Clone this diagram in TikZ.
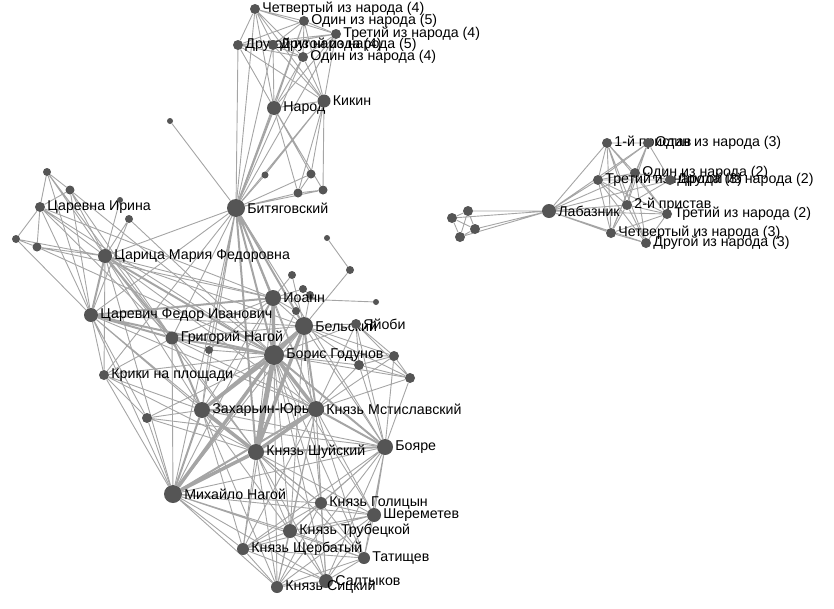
\documentclass[tikz,border=0pt]{standalone}
\usepackage{fontspec}
\setmainfont{Liberation Sans}
\usetikzlibrary{backgrounds}

\definecolor{dotgray}{RGB}{85,85,85}
\definecolor{edgegray}{RGB}{165,165,165}

\tikzset{
  dot/.style={circle, fill=dotgray, inner sep=0pt, minimum size=#1},
  edge/.style={draw=edgegray, line width=0.9pt},
  edgemid/.style={edge, line width=2pt},
  edgethick/.style={edge, line width=3.5pt},
  edgeheavy/.style={edge, line width=5pt},
  every label/.style={font=\fontsize{14.2}{16}\selectfont, inner sep=1pt, text=black},
  label distance=1pt
}

\begin{document}
\begin{tikzpicture}[x=1pt, y=-1pt]
    \useasboundingbox (0,0) rectangle (834,608);

    % top group
    \node[dot=10pt, label=right:{Четвертый из народа (4)}] (ch4) at (255,9) {};
    \node[dot=10pt, label=right:{Один из народа (5)}] (od5) at (304,21) {};
    \node[dot=10pt, label=right:{Третий из народа (4)}] (tr4) at (336,34) {};
    \node[dot=10pt, label=right:{Другой из народа (4)}] (dr4) at (238,45) {};
    \node[dot=10pt, label=right:{Другой из народа (5)}] (dr5) at (273,45) {};
    \node[dot=10pt, label=right:{Один из народа (4)}] (od4) at (303,57) {};
    \node[dot=14pt, label=right:{Народ}] (narod) at (274,108) {};
    \node[dot=13pt, label=right:{Кикин}] (kikin) at (324,101) {};
    \node[dot=6pt] (s1) at (170,121) {};
    \node[dot=7pt] (s2) at (265,175) {};
    \node[dot=9pt] (s3) at (311,174) {};
    \node[dot=9pt] (s4) at (323,190) {};
    \node[dot=9pt] (s5) at (298,193) {};
    \node[dot=18pt, label=right:{Битяговский}] (bit) at (236,208) {};

    % left group
    \node[dot=8pt] (l1) at (47,172) {};
    \node[dot=9pt] (l2) at (70,190) {};
    \node[dot=10pt, label=right:{Царевна Ирина}] (irina) at (40,207) {};
    \node[dot=6pt] (l3) at (120,200) {};
    \node[dot=8pt] (l4) at (129,219) {};
    \node[dot=8pt] (l5) at (16,239) {};
    \node[dot=9pt] (l6) at (37,247) {};
    \node[dot=14pt, label=right:{Царица Мария Федоровна}] (carica) at (105,256) {};
    \node[dot=14pt, label=right:{Царевич Федор Иванович}] (carevich) at (91,315) {};
    \node[dot=13pt, label=right:{Григорий Нагой}] (grig) at (172,338) {};
    \node[dot=8pt] (m1) at (209,350) {};
    \node[dot=10pt, label=right:{Крики на площади}] (kriki) at (104,375) {};
    \node[dot=10pt] (m2) at (147,418) {};

    % middle
    \node[dot=6pt] (c1) at (327,238) {};
    \node[dot=8pt] (c2) at (350,270) {};
    \node[dot=8pt] (c3) at (292,275) {};
    \node[dot=8pt] (c4) at (303,289) {};
    \node[dot=8pt] (c5) at (310,295) {};
    \node[dot=6pt] (c6) at (376,302) {};
    \node[dot=8pt] (c7) at (296,311) {};
    \node[dot=16pt, label=right:{Иоанн}] (ioann) at (273,298) {};
    \node[dot=18pt, label=right:{Бельский}] (bel) at (304,326) {};
    \node[dot=10pt, label=right:{Яйоби}] (yayobi) at (356,324) {};
    \node[dot=20pt, label=right:{Борис Годунов}] (bg) at (274,355) {};
    \node[dot=10pt] (r1) at (394,356) {};
    \node[dot=10pt] (r2) at (359,365) {};
    \node[dot=10pt] (r3) at (410,378) {};
    \node[dot=16pt, label=right:{Захарьин-Юрьев}] (zah) at (202,410) {};
    \node[dot=16pt, label=right:{Князь Мстиславский}] (mstis) at (316,409) {};
    \node[dot=16pt, label=right:{Князь Шуйский}] (shuy) at (256,452) {};
    \node[dot=16pt, label=right:{Бояре}] (boyare) at (385,447) {};
    \node[dot=18pt, label=right:{Михайло Нагой}] (mihaylo) at (173,494) {};
    \node[dot=12pt, label=right:{Князь Голицын}] (golic) at (321,503) {};
    \node[dot=14pt, label=right:{Шереметев}] (sherem) at (374,515) {};
    \node[dot=14pt, label=right:{Князь Трубецкой}] (trub) at (290,531) {};
    \node[dot=12pt, label=right:{Князь Щербатый}] (scherb) at (243,549) {};
    \node[dot=12pt, label=right:{Татищев}] (tatish) at (364,558) {};
    \node[dot=14pt, label=right:{Салтыков}] (salt) at (326,581) {};
    \node[dot=12pt, label=right:{Князь Сицкий}] (sick) at (277,587) {};

    % right group
    \node[dot=14pt, label=right:{Лабазник}] (lab) at (549,211) {};
    \node[dot=10pt] (q1) at (468,211) {};
    \node[dot=10pt] (q2) at (452,218) {};
    \node[dot=10pt] (q3) at (475,229) {};
    \node[dot=10pt] (q4) at (460,237) {};
    \node[dot=10pt, label=right:{1-й пристав}] (p1) at (607,143) {};
    \node[dot=10pt, label=right:{Один из народа (3)}] (o3) at (648,143) {};
    \node[dot=10pt, label=right:{Один из народа (2)}] (o2) at (635,173) {};
    \node[dot=10pt, label=right:{Третий из народа (3)}] (t3) at (598,180) {};
    \node[dot=10pt, label=right:{Другой из народа (2)}] (d2) at (670,180) {};
    \node[dot=10pt, label=right:{2-й пристав}] (p2) at (627,205) {};
    \node[dot=10pt, label=right:{Третий из народа (2)}] (t2) at (667,214) {};
    \node[dot=10pt, label=right:{Четвертый из народа (3)}] (ch3) at (611,233) {};
    \node[dot=10pt, label=right:{Другой из народа (3)}] (d3) at (646,243) {};

    \begin{pgfonlayer}{background}
    % top group links
    \draw[edge] (ch4) -- (od5) (ch4) -- (tr4) (ch4) -- (dr4) (ch4) -- (dr5) (ch4) -- (od4) (ch4) -- (narod) (ch4) -- (kikin) (ch4) -- (bit);
    \draw[edge] (od5) -- (tr4) (od5) -- (dr4) (od5) -- (dr5) (od5) -- (od4) (od5) -- (narod) (od5) -- (kikin) (od5) -- (bit);
    \draw[edge] (tr4) -- (dr4) (tr4) -- (dr5) (tr4) -- (od4) (tr4) -- (narod) (tr4) -- (kikin) (tr4) -- (bit);
    \draw[edge] (dr4) -- (dr5) (dr4) -- (od4) (dr4) -- (narod) (dr4) -- (kikin) (dr4) -- (bit);
    \draw[edge] (dr5) -- (od4) (dr5) -- (narod) (dr5) -- (kikin) (dr5) -- (bit);
    \draw[edge] (od4) -- (narod) (od4) -- (kikin) (od4) -- (bit);
    \draw[edgemid] (narod) -- (bit);
    \draw[edge] (narod) -- (kikin) (narod) -- (s3) (narod) -- (s4) (narod) -- (s5) (kikin) -- (bit) (kikin) -- (s2) (kikin) -- (s3) (kikin) -- (s4) (kikin) -- (s5);
    \draw[edge] (bit) -- (s1) (bit) -- (s2) (bit) -- (s3) (bit) -- (s4) (bit) -- (s5) (s3) -- (s5) (s4) -- (s5);

    % Bityagovsky down
    \draw[edge] (bit) -- (carica) (bit) -- (carevich) (bit) -- (grig) (bit) -- (zah) (bit) -- (mihaylo) (bit) -- (mstis) (bit) -- (kriki) (bit) -- (m1) (bit) -- (boyare);
    \draw[edgemid] (bit) -- (ioann) (bit) -- (bg) (bit) -- (bel) (bit) -- (shuy);

    % left group links
    \draw[edge] (l1) -- (l2) (l1) -- (irina) (l1) -- (carica) (l1) -- (carevich) (l1) -- (grig);
    \draw[edge] (l2) -- (irina) (l2) -- (carica) (l2) -- (carevich) (l2) -- (grig) (l2) -- (bg);
    \draw[edge] (irina) -- (l5) (irina) -- (l6) (irina) -- (carica) (irina) -- (carevich) (irina) -- (bg) (irina) -- (grig) (irina) -- (ioann);
    \draw[edge] (l3) -- (carica) (l4) -- (carica) (l4) -- (carevich) (l4) -- (bg);
    \draw[edge] (l5) -- (l6) (l5) -- (carica) (l5) -- (carevich) (l6) -- (carica) (l6) -- (bg) (l6) -- (ioann);
    \draw[edgemid] (carica) -- (carevich) (carica) -- (bg) (carica) -- (grig);
    \draw[edge] (carica) -- (ioann) (carica) -- (zah) (carica) -- (mihaylo) (carica) -- (shuy) (carica) -- (bel) (carica) -- (kriki) (carica) -- (mstis);
    \draw[edgemid] (carevich) -- (bg) (carevich) -- (grig) (carevich) -- (ioann);
    \draw[edge] (carevich) -- (bel) (carevich) -- (zah) (carevich) -- (kriki) (carevich) -- (mihaylo) (carevich) -- (shuy) (carevich) -- (m2) (carevich) -- (mstis);
    \draw[edgemid] (grig) -- (bg) (grig) -- (zah);
    \draw[edge] (grig) -- (bel) (grig) -- (ioann) (grig) -- (shuy) (grig) -- (mihaylo) (grig) -- (m1) (grig) -- (kriki) (grig) -- (mstis);
    \draw[edge] (kriki) -- (bg) (kriki) -- (zah) (kriki) -- (mihaylo) (kriki) -- (shuy) (kriki) -- (m2);
    \draw[edge] (m2) -- (zah) (m2) -- (shuy) (m2) -- (bg) (m2) -- (mihaylo) (m2) -- (boyare);
    \draw[edge] (m1) -- (bg) (m1) -- (zah) (m1) -- (ioann);

    % middle links
    \draw[edge] (c1) -- (c2) (c2) -- (bel) (c3) -- (ioann) (c3) -- (bel) (c4) -- (ioann) (c4) -- (c5) (c5) -- (bel) (c6) -- (ioann) (c7) -- (ioann) (c7) -- (bel) (c7) -- (bg);
    \draw[edgethick] (ioann) -- (bg);
    \draw[edge] (ioann) -- (bel) (ioann) -- (mstis) (ioann) -- (shuy) (ioann) -- (zah) (ioann) -- (mihaylo);
    \draw[edgethick] (bel) -- (bg) (bel) -- (shuy);
    \draw[edgemid] (bel) -- (mstis) (bel) -- (zah);
    \draw[edge] (bel) -- (boyare) (bel) -- (yayobi) (bel) -- (r1) (bel) -- (r2) (bel) -- (r3) (bel) -- (mihaylo) (bel) -- (golic) (bel) -- (trub);
    \draw[edgeheavy] (bg) -- (shuy);
    \draw[edgethick] (bg) -- (zah) (bg) -- (mstis) (bg) -- (mihaylo);
    \draw[edgemid] (bg) -- (boyare);
    \draw[edge] (bg) -- (yayobi) (bg) -- (r1) (bg) -- (r2) (bg) -- (r3) (bg) -- (golic) (bg) -- (trub) (bg) -- (scherb) (bg) -- (sick) (bg) -- (salt) (bg) -- (tatish) (bg) -- (sherem);
    \draw[edge] (yayobi) -- (r1) (yayobi) -- (r2) (yayobi) -- (r3) (yayobi) -- (boyare) (yayobi) -- (mstis) (r1) -- (r2) (r1) -- (r3) (r2) -- (r3);
    \draw[edge] (r1) -- (boyare) (r2) -- (boyare) (r3) -- (boyare) (r1) -- (mstis) (r2) -- (mstis) (r3) -- (mstis);

    % lower group links
    \draw[edgethick] (zah) -- (shuy);
    \draw[edgemid] (zah) -- (mstis) (zah) -- (mihaylo);
    \draw[edge] (zah) -- (boyare) (zah) -- (golic) (zah) -- (trub) (zah) -- (scherb) (zah) -- (sick);
    \draw[edgethick] (mstis) -- (shuy);
    \draw[edgemid] (mstis) -- (boyare) (mstis) -- (mihaylo);
    \draw[edge] (mstis) -- (golic) (mstis) -- (trub) (mstis) -- (sherem) (mstis) -- (salt) (mstis) -- (scherb) (mstis) -- (sick) (mstis) -- (tatish);
    \draw[edgethick] (shuy) -- (mihaylo);
    \draw[edgemid] (shuy) -- (boyare);
    \draw[edge] (shuy) -- (golic) (shuy) -- (trub) (shuy) -- (scherb) (shuy) -- (sick) (shuy) -- (salt) (shuy) -- (tatish) (shuy) -- (sherem);
    \draw[edge] (boyare) -- (mihaylo) (boyare) -- (golic) (boyare) -- (trub) (boyare) -- (sherem) (boyare) -- (tatish) (boyare) -- (salt) (boyare) -- (scherb) (boyare) -- (sick);
    \draw[edge] (mihaylo) -- (golic) (mihaylo) -- (trub) (mihaylo) -- (scherb) (mihaylo) -- (sick) (mihaylo) -- (salt) (mihaylo) -- (sherem) (mihaylo) -- (tatish);
    \draw[edge] (golic) -- (sherem) (golic) -- (trub) (golic) -- (scherb) (golic) -- (tatish) (golic) -- (salt) (golic) -- (sick);
    \draw[edge] (sherem) -- (trub) (sherem) -- (scherb) (sherem) -- (tatish) (sherem) -- (salt) (sherem) -- (sick);
    \draw[edge] (trub) -- (scherb) (trub) -- (tatish) (trub) -- (salt) (trub) -- (sick);
    \draw[edge] (scherb) -- (tatish) (scherb) -- (salt) (scherb) -- (sick) (tatish) -- (salt) (tatish) -- (sick) (salt) -- (sick);

    % right group links
    \draw[edge] (lab) -- (q1) (lab) -- (q2) (lab) -- (q3) (lab) -- (q4) (q1) -- (q2) (q1) -- (q3) (q1) -- (q4) (q2) -- (q3) (q2) -- (q4) (q3) -- (q4);
    \draw[edge] (lab) -- (p1) (lab) -- (o3) (lab) -- (o2) (lab) -- (t3) (lab) -- (d2) (lab) -- (p2) (lab) -- (t2) (lab) -- (ch3) (lab) -- (d3);
    \draw[edge] (p1) -- (o3) (p1) -- (o2) (p1) -- (t3) (p1) -- (p2) (p1) -- (ch3) (p1) -- (d3) (p1) -- (t2);
    \draw[edge] (o3) -- (o2) (o3) -- (t3) (o3) -- (p2) (o3) -- (ch3) (o3) -- (d2);
    \draw[edge] (o2) -- (t3) (o2) -- (d2) (o2) -- (p2) (o2) -- (t2) (o2) -- (ch3) (o2) -- (d3);
    \draw[edge] (t3) -- (p2) (t3) -- (t2) (t3) -- (ch3) (t3) -- (d3) (t3) -- (d2);
    \draw[edge] (p2) -- (t2) (p2) -- (ch3) (p2) -- (d3) (p2) -- (d2);
    \draw[edge] (t2) -- (ch3) (t2) -- (d3) (ch3) -- (d3);
    \end{pgfonlayer}
\end{tikzpicture}
\end{document}
